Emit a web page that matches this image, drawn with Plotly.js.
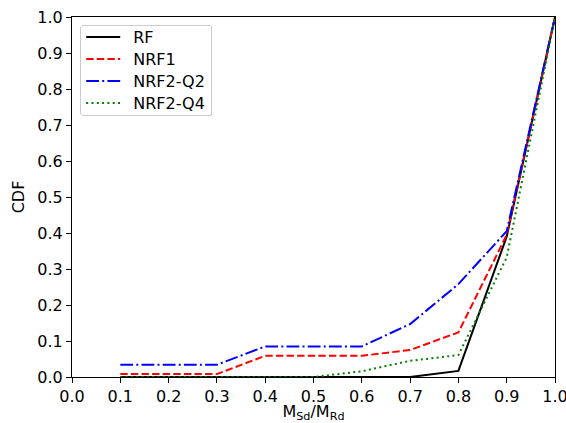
<!DOCTYPE html>
<html>
<head>
<meta charset="utf-8">
<script src="https://cdn.plot.ly/plotly-3.0.1.min.js"></script>
<style>
  html, body { margin: 0; padding: 0; background: #fff; }
  #chart { width: 566px; height: 423px; }
</style>
</head>
<body>
<div id="chart"></div>
<script>
// Moment ratio bins
const ratio = [0.1, 0.2, 0.3, 0.4, 0.5, 0.6, 0.7, 0.8, 0.9, 1.0];

// Cumulative distributions per frame type
const cdfRF     = [0.0, 0.0, 0.0, 0.0, 0.0, 0.0, 0.0, 0.017, 0.39, 1.0];
const cdfNRF1   = [0.008, 0.008, 0.008, 0.059, 0.059, 0.059, 0.075, 0.124, 0.395, 1.0];
const cdfNRF2Q2 = [0.034, 0.034, 0.034, 0.085, 0.085, 0.085, 0.147, 0.258, 0.405, 1.0];
const cdfNRF2Q4 = [0.0, 0.0, 0.0, 0.0, 0.0, 0.016, 0.045, 0.061, 0.332, 1.0];

const seriesNames = ['RF', 'NRF1', 'NRF2-Q2', 'NRF2-Q4'];
const xTicks = [0.0, 0.1, 0.2, 0.3, 0.4, 0.5, 0.6, 0.7, 0.8, 0.9, 1.0];
const yTicks = [0.0, 0.1, 0.2, 0.3, 0.4, 0.5, 0.6, 0.7, 0.8, 0.9, 1.0];

const styles = [
  { color: '#000000', dash: 'solid' },
  { color: '#ff0000', dash: '7.4px,3.2px' },
  { color: '#0000ff', dash: '12.8px,3.2px,2px,3.2px' },
  { color: '#008000', dash: '2px,3.3px' }
];

const allY = [cdfRF, cdfNRF1, cdfNRF2Q2, cdfNRF2Q4];
const traces = allY.map((ys, i) => ({
  x: ratio,
  y: ys,
  type: 'scatter',
  mode: 'lines',
  name: seriesNames[i],
  line: { color: styles[i].color, dash: styles[i].dash, width: 2 }
}));

const font = { family: 'DejaVu Sans, sans-serif', size: 16, color: '#000' };

const axisCommon = {
  showgrid: false,
  zeroline: false,
  showline: true,
  linecolor: '#000',
  linewidth: 1,
  mirror: true,
  ticks: 'outside',
  ticklen: 5,
  tickwidth: 1,
  tickcolor: '#000',
  tickfont: font,
  tickformat: '.1f',
  ticklabeloverflow: 'allow'
};

const layout = {
  width: 566,
  height: 423,
  margin: { l: 72, r: 11, t: 17, b: 46 },
  paper_bgcolor: '#fff',
  plot_bgcolor: '#fff',
  font: font,
  showlegend: true,
  legend: {
    x: 0.017, y: 0.978, xanchor: 'left', yanchor: 'top',
    bgcolor: 'rgba(255,255,255,0.8)',
    bordercolor: '#cccccc',
    borderwidth: 1,
    font: font,
    tracegroupgap: 0,
    itemwidth: 40
  },
  xaxis: Object.assign({}, axisCommon, {
    range: [0, 1],
    tickvals: xTicks,
    title: { text: 'M<sub>Sd</sub>/M<sub>Rd</sub>', font: font, standoff: 9 }
  }),
  yaxis: Object.assign({}, axisCommon, {
    range: [0, 1],
    tickvals: yTicks,
    title: { text: 'CDF', font: font, standoff: 8 }
  })
};

Plotly.newPlot('chart', traces, layout, { displayModeBar: false, staticPlot: true }).then(gd => {
  // Compact legend: tighter rows, longer line samples, rounded box
  const rowGap = 22, firstRow = 12;
  const items = gd.querySelectorAll('.legend .traces');
  items.forEach((el, i) => {
    el.setAttribute('transform', 'translate(0,' + (firstRow + i * rowGap) + ')');
    el.querySelectorAll('.legendlines path').forEach(p => p.setAttribute('d', 'M6,0h34'));
    const t = el.querySelector('text.legendtext');
    if (t) t.setAttribute('x', 53);
  });
  const bg = gd.querySelector('.legend .bg');
  if (bg) {
    bg.setAttribute('height', firstRow * 2 + (items.length - 1) * rowGap);
    bg.setAttribute('width', 131);
    bg.setAttribute('rx', 3);
    bg.setAttribute('ry', 3);
  }
});
</script>
</body>
</html>
